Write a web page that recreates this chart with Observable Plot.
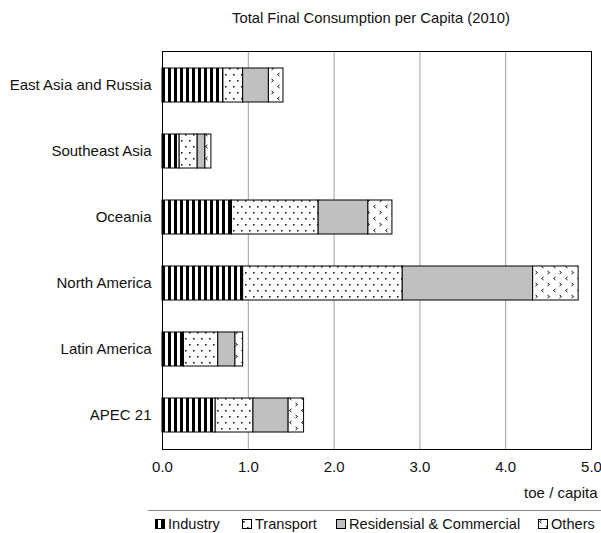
<!DOCTYPE html>
<html>
<head>
<meta charset="utf-8">
<script src="https://cdn.jsdelivr.net/npm/d3@7"></script>
<script src="https://cdn.jsdelivr.net/npm/@observablehq/plot@0.6"></script>
<style>
  html, body { margin: 0; padding: 0; background: #fff; }
  body { width: 601px; height: 533px; position: relative; overflow: hidden; font-family: "Liberation Sans", Arial, sans-serif; }
  #title { position: absolute; top: 10px; left: 0; width: 742px; text-align: center; font-size: 14.8px; color: #111; }
  #chart { position: absolute; top: 0; left: 0; }
  #legend { position: absolute; top: 510px; left: 148px; width: 460px; height: 30px; border-top: 1px solid #888; font-size: 14.6px; color: #111; }
  .item { position: absolute; top: 5px; display: flex; align-items: center; white-space: nowrap; }
  .item svg { margin-right: 3px; }
</style>
</head>
<body>
<div id="title">Total Final Consumption per Capita (2010)</div>
<div id="chart"></div>
<div id="legend"></div>
<script>
const categories = ["East Asia and Russia", "Southeast Asia", "Oceania", "North America", "Latin America", "APEC 21"];
const series = ["Industry", "Transport", "Residensial & Commercial", "Others"];
const industry    = [0.71, 0.20, 0.81, 0.94, 0.25, 0.62];
const transport   = [0.23, 0.21, 1.01, 1.86, 0.40, 0.44];
const residential = [0.30, 0.09, 0.58, 1.52, 0.20, 0.41];
const others      = [0.17, 0.07, 0.28, 0.53, 0.09, 0.18];
const xTicks = [0, 1, 2, 3, 4, 5];

const values = [industry, transport, residential, others];
const data = [];
categories.forEach((c, i) => series.forEach((s, j) => data.push({region: c, series: s, value: values[j][i]})));

const fills = ["url(#pInd)", "url(#pTra)", "url(#pRes)", "url(#pOth)"];

const defsMarkup = `
<pattern id="pInd" patternUnits="userSpaceOnUse" width="6" height="6">
  <rect width="6" height="6" fill="#fff"/><rect x="0" width="3" height="6" fill="#000"/>
</pattern>
<pattern id="pTra" patternUnits="userSpaceOnUse" width="8" height="12">
  <rect width="8" height="12" fill="#fff"/>
  <rect x="1" y="2" width="1.6" height="1.6" fill="#222"/>
  <rect x="5" y="8" width="1.6" height="1.6" fill="#222"/>
</pattern>
<pattern id="pRes" patternUnits="userSpaceOnUse" width="4" height="4">
  <rect width="4" height="4" fill="#c0c0c0"/>
</pattern>
<pattern id="pOth" patternUnits="userSpaceOnUse" width="12" height="12">
  <rect width="12" height="12" fill="#fff"/>
  <path d="M3.5,1 L1.5,2.5 L3.5,4" fill="none" stroke="#111" stroke-width="1"/>
  <path d="M7.5,7 L9.5,8.5 L7.5,10" fill="none" stroke="#111" stroke-width="1"/>
</pattern>`;

const plot = Plot.plot({
  width: 601,
  height: 510,
  marginTop: 51,
  marginBottom: 61,
  marginLeft: 162,
  marginRight: 10,
  style: {fontFamily: "'Liberation Sans', Arial, sans-serif", fontSize: "15px", color: "#111", background: "transparent"},
  x: {domain: [0, 5], ticks: xTicks, tickFormat: d3.format(".1f"), label: null},
  y: {domain: categories, paddingInner: 0.49, paddingOuter: 0.245, label: null},
  color: {domain: series, range: fills, legend: false},
  marks: [
    Plot.gridX({ticks: [1, 2, 3, 4], stroke: "#a0a0a0", strokeOpacity: 1}),
    Plot.barX(data, Plot.stackX({x: "value", y: "region", fill: "series", stroke: "#000", strokeWidth: 1, order: series})),
    Plot.frame({stroke: "#000", strokeWidth: 1}),
    Plot.axisX({ticks: xTicks, tickFormat: d3.format(".1f"), tickSize: 0, tickPadding: 12, label: null}),
    Plot.axisY({tickSize: 0, tickPadding: 11, label: null}),
    Plot.text(["toe / capita"], {frameAnchor: "bottom-right", text: d => d, textAnchor: "end", dx: 6, dy: 48})
  ]
});
const defs = document.createElementNS("http://www.w3.org/2000/svg", "defs");
defs.innerHTML = defsMarkup;
plot.insertBefore(defs, plot.firstChild);
document.getElementById("chart").appendChild(plot);

// legend
const legend = document.getElementById("legend");
const legendLeft = [7, 94, 188, 390];
series.forEach((s, j) => {
  const item = document.createElement("div");
  item.className = "item";
  item.style.left = legendLeft[j] + "px";
  item.innerHTML = `<svg width="10" height="10"><rect x="0.5" y="0.5" width="9" height="9" fill="${fills[j]}" stroke="#000"/></svg><span>${s}</span>`;
  legend.appendChild(item);
});
</script>
</body>
</html>
